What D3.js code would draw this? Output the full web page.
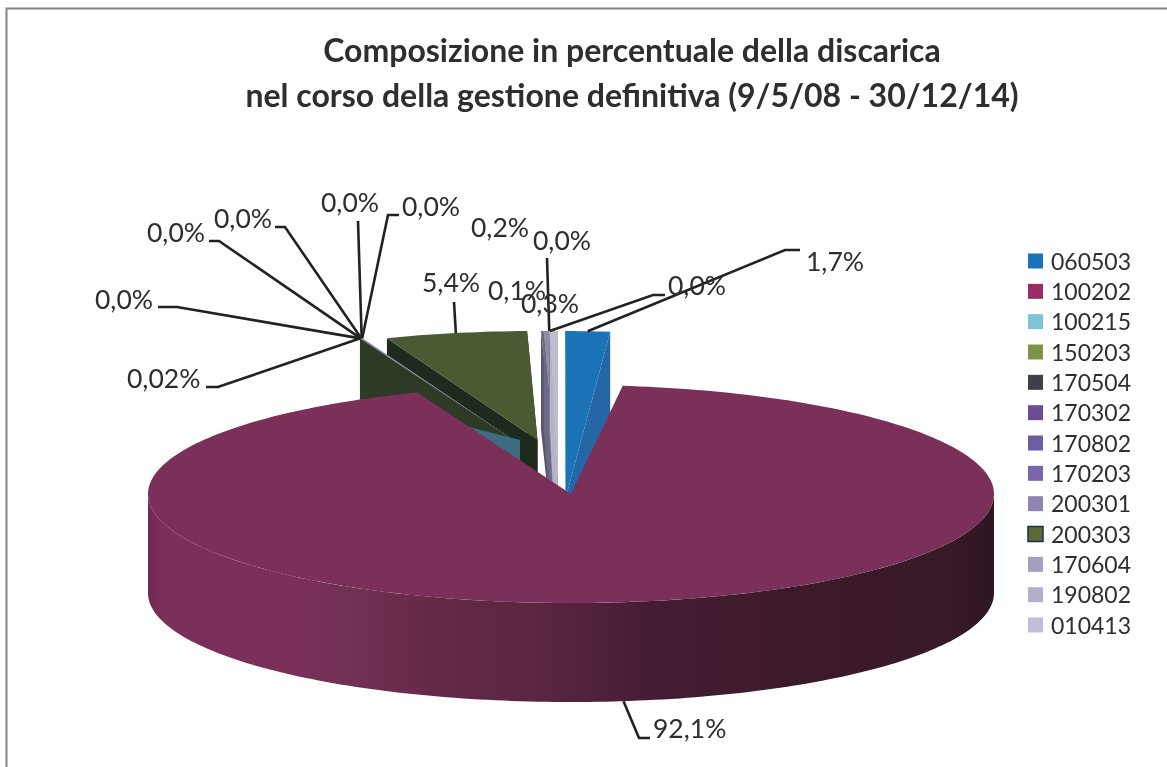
<!DOCTYPE html>
<html>
<head>
<meta charset="utf-8">
<script src="https://cdn.jsdelivr.net/npm/d3@7"></script>
<style>
  html, body { margin: 0; padding: 0; background: #fff; }
  svg { display: block; filter: blur(0.45px); }
  text { font-family: Lato, "Open Sans", sans-serif; fill: #2e2e32; }
</style>
</head>
<body>
<script>
var width = 1167,
    height = 767;

var titleLines = ["Composizione in percentuale della discarica",
                  "nel corso della gestione definitiva (9/5/08 - 30/12/14)"];

// legend, top to bottom
var legendCodes = ["060503","100202","100215","150203","170504","170302","170802",
                   "170203","200301","200303","170604","190802","010413"];
var legendColors = ["#1b72b6","#9a2b64","#7cc4d6","#7f9448","#3e4148","#6c4f93","#705ca0",
                    "#7c66aa","#8f84b2","#5a6b35","#a5a0c2","#b4b0cc","#c1bed6"];

// slices, clockwise from the first slice angle. The picture has 14 labels but
// only 13 legend entries, so one slice has no code.
var sliceCodes  = ["060503","100202","100215","200303","200301","170604","190802","010413",
                   "150203","170504","170302","170802","","170203"];
var sliceValues = [1.7, 92.1, 0.02, 0.02, 0.02, 0.02, 0.02, 0.02, 5.4, 0.1, 0.2, 0.02, 0.02, 0.3];
var sliceLabels = ["1,7%","92,1%","0,02%","0,0%","0,0%","0,0%","0,0%","0,0%",
                   "5,4%","0,1%","0,2%","0,0%","0,0%","0,3%"];
var sliceFaces  = ["#1b74b8","#7b3059","#3d6b80","#a9a9c4","#a9a9c4","#a9a9c4","#b0b0c8","#b0b0c8",
                   "#4a5a32","#6a6a84","#8b8ba3","#9a9ab2","#a8a8be","#bcbdd0"];
var sliceWalls  = ["#2466a6","#5a2640","#3d6b80","#2d3a26","#8a8aa6","#8a8aa6","#8a8aa6","#8a8aa6",
                   "#1f2a1f","#565670","#6a6a84","#7a7a94","#8a8aa2","#b4b5c9"];

// where each part of the exploded pie landed: rim centre and wedge tip
var mainRim  = {x: 571, y: 494};
var blueRim  = {x: 558.5, y: 440, ax: 566, ay: 497};
var greyRim  = {x: 551.4, y: 440, ax: 558, ay: 490};
var greenRim = {x: 537.5, y: 440};
var tinyRim  = {x: 513, y: 440};
var tealRim  = {x: 513, y: 501, ax: 520, ay: 440};
var sliceRims = [blueRim, mainRim, tealRim, tinyRim, tinyRim, tinyRim, tinyRim, tinyRim,
                 greenRim, greyRim, greyRim, greyRim, greyRim, greyRim];

// painting order, back to front
var paintOrder = [8, 4, 5, 6, 7, 3, 2, 9, 10, 11, 12, 13, 0, 1];

// leader elbows and label boxes (left x, baseline y), same order as the slices
var labelBoxes = [
  {pts: [[785,250],[800,250]], x: 806, y: 271},
  {pts: [[639,738],[650,738]], x: 653, y: 738},
  {pts: [[218,387],[206,387]], x: 127, y: 388},
  {pts: [[177,307],[158,307]], x: 95,  y: 309},
  {pts: [[219,241],[209,241]], x: 147, y: 242},
  {pts: [[285,227],[275,227]], x: 214, y: 228},
  {pts: [[358,221]],           x: 321, y: 212},
  {pts: [[388,215],[399,215]], x: 402, y: 216},
  {pts: [[454,302]],           x: 422, y: 292},
  {pts: [],                    x: 488, y: 300},
  {pts: [],                    x: 471, y: 237},
  {pts: [[547,258]],           x: 533, y: 250},
  {pts: [[653,295],[665,295]], x: 668, y: 295},
  {pts: [],                    x: 521, y: 313}
];

var sideStops = [[148,"#6b2a4e"],[162,"#7b3059"],[300,"#7a3058"],[345,"#723055"],[400,"#6b2c4b"],
                 [470,"#5f2743"],[540,"#5a2640"],[600,"#4f2039"],[650,"#451c33"],
                 [800,"#3c1a2a"],[950,"#371927"],[996,"#2f1522"]];

var rx = 423, ry = 109, depth = 99;

var svg = d3.select("body").append("svg")
    .attr("width", width)
    .attr("height", height);

var grad = svg.append("defs").append("linearGradient")
    .attr("id", "side")
    .attr("gradientUnits", "userSpaceOnUse")
    .attr("x1", 148).attr("x2", 996).attr("y1", 0).attr("y2", 0);
grad.selectAll("stop")
    .data(sideStops)
  .enter().append("stop")
    .attr("offset", function(d) { return (d[0] - 148) / (996 - 148); })
    .attr("stop-color", function(d) { return d[1]; });

// frame, only the top and left sides are inside the picture
svg.append("path")
    .attr("d", "M6.5," + height + "V8.5H" + width)
    .attr("fill", "none")
    .attr("stroke", "#80868a")
    .attr("stroke-width", 2);

svg.selectAll(".title")
    .data(titleLines)
  .enter().append("text")
    .attr("class", "title")
    .attr("x", 632)
    .attr("y", function(d, i) { return 62 + i * 45; })
    .attr("text-anchor", "middle")
    .style("font-size", "32px")
    .style("font-weight", "bold")
    .text(function(d) { return d; });

var startAngle = 0.9 * Math.PI / 180;
var pie = d3.pie()
    .sort(null)
    .startAngle(startAngle)
    .endAngle(startAngle + 2 * Math.PI);
var arcs = pie(sliceValues);

function rimPoint(rim, a, drop) {
  return [rim.x + rx * Math.sin(a), rim.y - ry * Math.cos(a) + (drop || 0)];
}

function rimPoints(rim, a0, a1, drop) {
  var n = Math.max(2, Math.ceil((a1 - a0) / 0.02));
  return d3.range(n + 1).map(function(i) {
    return rimPoint(rim, a0 + (a1 - a0) * i / n, drop);
  });
}

function tip(rim) {
  return [rim.ax === undefined ? rim.x : rim.ax, rim.ay === undefined ? rim.y : rim.ay];
}

var line = d3.line();
var chart = svg.append("g");

paintOrder.forEach(function(i) {
  var d = arcs[i], rim = sliceRims[i], t = tip(rim);

  if (i === 1) {
    // the big slice only shows its front wall
    var a0 = Math.max(d.startAngle, Math.PI / 2),
        a1 = Math.min(d.endAngle, 3 * Math.PI / 2);
    var wall = rimPoints(rim, a0, a1, 0).concat(rimPoints(rim, a0, a1, depth).reverse());
    chart.append("path")
        .attr("d", line(wall) + "Z")
        .attr("fill", "url(#side)");
  } else {
    // side walls of the wedges standing behind the big slice
    [d.startAngle, d.endAngle].forEach(function(a) {
      var p = rimPoint(rim, a);
      chart.append("path")
          .attr("d", line([p, t, [t[0], t[1] + depth], [p[0], p[1] + depth]]) + "Z")
          .attr("fill", sliceWalls[i]);
    });
  }

  chart.append("path")
      .attr("d", line([t].concat(rimPoints(rim, d.startAngle, d.endAngle, 0))) + "Z")
      .attr("fill", sliceFaces[i]);
});

// leaders and labels
var labels = svg.append("g");
arcs.forEach(function(d, i) {
  var box = labelBoxes[i];
  var mid = (d.startAngle + d.endAngle) / 2;
  // the teal wall sits lower than its rim, its leader starts with the other tiny slices
  var anchor = rimPoint(i === 2 ? tinyRim : sliceRims[i], mid, i === 1 ? depth : 0);
  if (box.pts.length) {
    labels.append("path")
        .attr("d", line([anchor].concat(box.pts)))
        .attr("fill", "none")
        .attr("stroke", "#222")
        .attr("stroke-width", 2.6);
  }
  labels.append("text")
      .attr("x", box.x)
      .attr("y", box.y)
      .style("font-size", "26.5px")
      .text(sliceLabels[i]);
});

// legend
var legendY = d3.scalePoint()
    .domain(legendCodes)
    .range([261, 625]);

var legend = svg.selectAll(".legend")
    .data(legendCodes)
  .enter().append("g")
    .attr("class", "legend")
    .attr("transform", function(d) { return "translate(1028," + legendY(d) + ")"; });

legend.append("rect")
    .attr("y", -7.5)
    .attr("width", 15)
    .attr("height", 15)
    .attr("fill", function(d, i) { return legendColors[i]; })
    .attr("stroke", function(d) { return d === "200303" ? "#16324a" : "none"; })
    .attr("stroke-width", 1.5);

legend.append("text")
    .attr("x", 23)
    .attr("y", 8.5)
    .style("font-size", "23px")
    .text(function(d) { return d; });
</script>
</body>
</html>
